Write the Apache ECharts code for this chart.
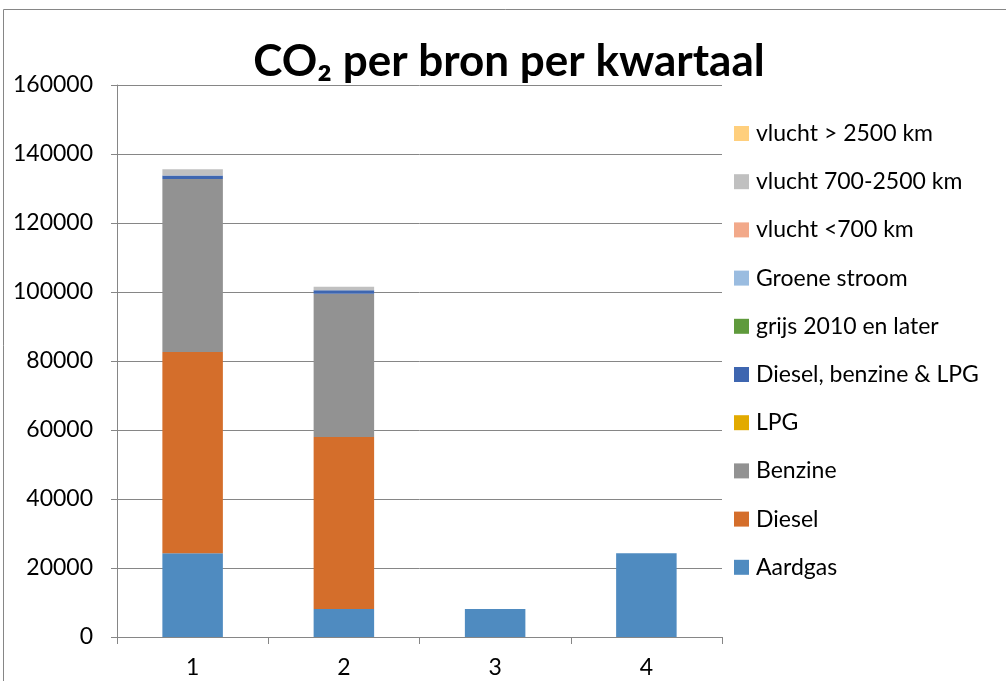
<!DOCTYPE html>
<html>
<head>
<meta charset="utf-8">
<script src="https://cdn.jsdelivr.net/npm/echarts@6/dist/echarts.min.js"></script>
<style>html,body{margin:0;padding:0;background:#fff}#c{width:1006px;height:681px}</style>
</head>
<body>
<div id="c"></div>
<script>
const categories = ['1', '2', '3', '4'];
const aardgas = [24300, 8100, 8100, 24300];
const diesel = [58300, 49900, 0, 0];
const benzine = [50150, 41500, 0, 0];
const lpg = [0, 0, 0, 0];
const dieselBenzineLpg = [1000, 1000, 0, 0];
const grijs2010 = [0, 0, 0, 0];
const groeneStroom = [0, 0, 0, 0];
const vluchtKort = [0, 0, 0, 0];
const vluchtMidden = [1800, 1050, 0, 0];
const vluchtLang = [0, 0, 0, 0];
const yTicks = [0, 20000, 40000, 60000, 80000, 100000, 120000, 140000, 160000];

const seriesDefs = [
  ['Aardgas', aardgas, '#4F8BC0'],
  ['Diesel', diesel, '#D46E2B'],
  ['Benzine', benzine, '#929292'],
  ['LPG', lpg, '#E2AA00'],
  ['Diesel, benzine & LPG', dieselBenzineLpg, '#3E66B0'],
  ['grijs 2010 en later', grijs2010, '#5F9A3C'],
  ['Groene stroom', groeneStroom, '#9ABCE0'],
  ['vlucht <700 km', vluchtKort, '#F2A98A'],
  ['vlucht 700-2500 km', vluchtMidden, '#C0C0C0'],
  ['vlucht > 2500 km', vluchtLang, '#FFCF7D']
];
const FONT = 'Lato, "Open Sans", sans-serif';
const chart = echarts.init(document.getElementById('c'), null, {renderer: 'canvas'});
chart.setOption({
  animation: false,
  backgroundColor: '#fff',
  graphic: [{
    type: 'rect', shape: {x: 3.5, y: 9.5, width: 1100, height: 800},
    style: {fill: 'none', stroke: '#868686', lineWidth: 1}, silent: true, z: -1
  }, {
    type: 'text', x: 509, y: 62, silent: true,
    style: {
      text: 'CO\u2082 per bron per kwartaal', align: 'center', verticalAlign: 'middle',
      font: 'bold 44px ' + FONT, fill: '#000'
    }
  }],
  legend: {
    orient: 'vertical', left: 729, top: 117,
    itemWidth: 15, itemHeight: 15, itemGap: 25.2,
    icon: 'rect',
    data: seriesDefs.map(s => s[0]).reverse(),
    textStyle: {fontFamily: FONT, fontSize: 23, color: '#000', padding: [0, 0, 0, 2]},
    selectedMode: false
  },
  grid: {left: 117, right: 284, top: 85, bottom: 44, containLabel: false},
  xAxis: {
    type: 'category', data: categories,
    axisLine: {lineStyle: {color: '#868686'}},
    axisTick: {show: true, length: 7, lineStyle: {color: '#868686'}},
    axisLabel: {fontFamily: FONT, fontSize: 23, color: '#000', margin: 19}
  },
  yAxis: {
    type: 'value', min: yTicks[0], max: yTicks[yTicks.length - 1], interval: 20000,
    axisLine: {show: true, lineStyle: {color: '#868686'}},
    axisTick: {show: true, length: 6, lineStyle: {color: '#868686'}},
    splitLine: {lineStyle: {color: '#868686'}},
    axisLabel: {fontFamily: FONT, fontSize: 23, color: '#000', margin: 24, formatter: v => String(v)}
  },
  series: seriesDefs.map(s => ({
    name: s[0], type: 'bar', stack: 'total', data: s[1], barWidth: '40%',
    itemStyle: {color: s[2]}
  }))
});
</script>
</body>
</html>
